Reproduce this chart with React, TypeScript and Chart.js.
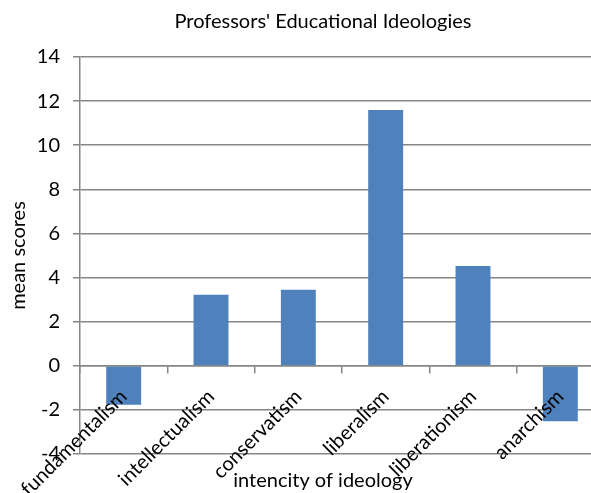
import React, { useEffect, useRef } from 'react';
import { Chart, registerables } from 'chart.js';
Chart.register(...registerables);

const categories = ['fundamentalism', 'intellectualism', 'conservatism', 'liberalism', 'liberationism', 'anarchism'];
const meanScores = [-1.77, 3.22, 3.45, 11.6, 4.52, -2.52];
const yTickValues = [-4, -2, 0, 2, 4, 6, 8, 10, 12, 14];
const chartTitle = "Professors' Educational Ideologies";
const xAxisTitle = 'intencity of ideology';
const yAxisTitle = 'mean scores';

const FONT = 'Lato';
const GRID = '#868686';
const BAR = '#4F81BD';

export default function App() {
  const ref = useRef<HTMLCanvasElement>(null);
  useEffect(() => {
    const chart = new Chart(ref.current as HTMLCanvasElement, {
      type: 'bar',
      data: {
        labels: categories,
        datasets: [{
          data: meanScores,
          backgroundColor: BAR,
          borderWidth: 0,
          barPercentage: 0.4,
          categoryPercentage: 1,
          xAxisID: 'x',
          yAxisID: 'y',
        }],
      },
      options: {
        responsive: false,
        animation: false,
        devicePixelRatio: 1,
        layout: { padding: 0, autoPadding: false },
        plugins: {
          legend: { display: false },
          tooltip: { enabled: false },
          title: {
            display: true,
            text: chartTitle,
            color: '#000',
            font: { family: FONT, size: 20, weight: 'normal' },
            padding: { top: 10, bottom: 23 },
          },
        },
        scales: {
          x: {
            type: 'category',
            position: { y: 0 },
            offset: true,
            grid: { display: true, drawOnChartArea: false, drawTicks: true, tickLength: 7, color: GRID, lineWidth: 1.5, offset: true, z: 1 },
            border: { display: true, color: GRID, width: 1.5, z: 1 },
            ticks: { z: 2, minRotation: 45, maxRotation: 45, autoSkip: false, padding: 12, color: '#000', font: { family: FONT, size: 20 } },
            afterFit: (s: any) => { s.height = 0; },
          },
          xTitle: {
            type: 'category',
            position: 'bottom',
            fullSize: true,
            grid: { display: false, drawTicks: false },
            border: { display: false },
            ticks: { display: false },
            title: { display: true, text: xAxisTitle, color: '#000', font: { family: FONT, size: 20 }, padding: { top: 0, bottom: 0 } },
            afterFit: (s: any) => { s.height = 39; },
          },
          y: {
            type: 'linear',
            position: 'left',
            min: -4,
            max: 14,
            afterBuildTicks: (s: any) => { s.ticks = yTickValues.map((v) => ({ value: v })); },
            grid: { color: GRID, lineWidth: 1.5, drawTicks: true, tickLength: 7 },
            border: { display: true, color: GRID, width: 1.5 },
            ticks: { padding: 13, color: '#000', font: { family: FONT, size: 20 } },
            title: { display: true, text: yAxisTitle, color: '#000', font: { family: FONT, size: 20 }, padding: { top: 7, bottom: 0 } },
            afterFit: (s: any) => { s.width = 80; },
          },
          yRight: {
            type: 'linear',
            position: 'right',
            grid: { display: false, drawTicks: false },
            border: { display: false },
            ticks: { display: false },
            afterFit: (s: any) => { s.width = 42; },
          },
        },
      } as any,
    });
    return () => chart.destroy();
  }, []);

  return (
    <div style={{ position: 'fixed', left: 0, top: 0, width: 591, height: 493, overflow: 'hidden', background: '#fff' }}>
      <canvas ref={ref} width={646} height={493} style={{ display: 'block' }} />
    </div>
  );
}
